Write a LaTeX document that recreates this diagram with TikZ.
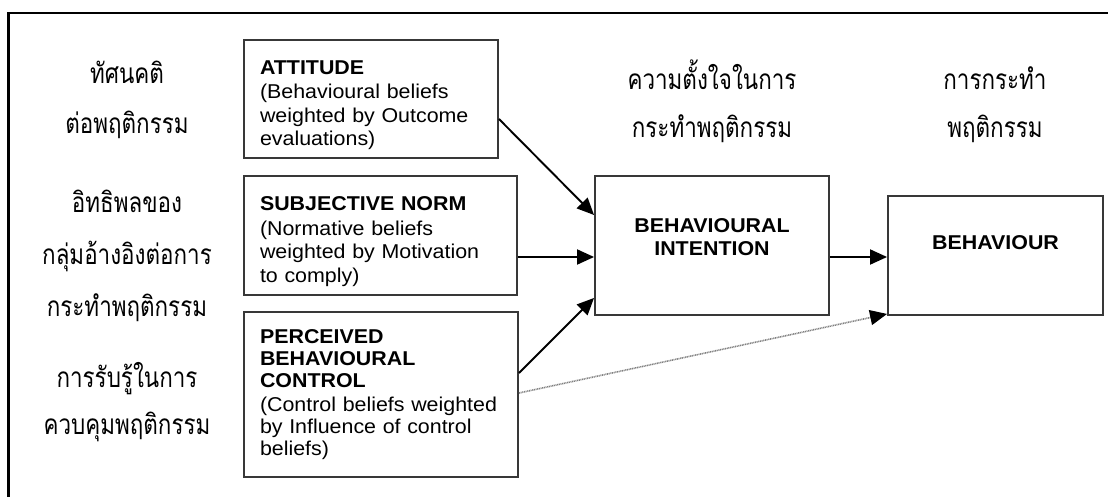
\documentclass[tikz,border=0pt]{standalone}
\usepackage{fontspec}
\newfontfamily\boxfont{Liberation Sans}[FakeStretch=1.07]
\newfontfamily\thaifont[Script=Thai, FakeStretch=0.8]{Loma}
\usetikzlibrary{arrows.meta}

\newcommand{\toppad}{\rule{0pt}{26pt}}

\tikzset{
  frameline/.style={line width=2.2pt, black},
  box/.style={draw=black!78, line width=1.9pt, rectangle, inner sep=0pt},
  leftbox/.style={box, align=left, inner xsep=16pt, inner ysep=0pt,
    font=\boxfont\fontsize{20}{23.5}\selectfont},
  bigtext/.style={align=center, inner sep=0pt,
    font=\boxfont\bfseries\fontsize{20}{23}\selectfont},
  thai/.style={anchor=base, inner sep=0pt, font=\thaifont\fontsize{28}{32}\selectfont},
  arrow/.style={line width=1.9pt, black, -{Triangle[length=17pt,width=15pt]}},
  dotarrow/.style={line width=1.6pt, black!50, dash pattern=on 1pt off 0.7pt,
    -{Triangle[length=17pt,width=15pt,fill=black,color=black]}}
}

\begin{document}
\begin{tikzpicture}[x=1pt,y=-1pt]
  \useasboundingbox (0,0) rectangle (1108,497);

  % open frame: top and left edges only
  \coordinate (ftr) at (1108,13);
  \coordinate (ftl) at (8.5,13);
  \coordinate (fbl) at (8.5,497);
  \draw[frameline] (ftr) -- (ftl) -- (fbl);

  % Thai captions, left column
  \node[thai] (t1a) at (127,84)  {ทัศนคติ};
  \node[thai] (t1b) at (127,134) {ต่อพฤติกรรม};
  \node[thai] (t2a) at (127,213) {อิทธิพลของ};
  \node[thai] (t2b) at (127,264) {กลุ่มอ้างอิงต่อการ};
  \node[thai] (t2c) at (127,316) {กระทำพฤติกรรม};
  \node[thai] (t3a) at (127,387) {การรับรู้ในการ};
  \node[thai] (t3b) at (127,434) {ควบคุมพฤติกรรม};

  % Thai captions above the intention and behaviour boxes
  \node[thai] (t4a) at (712,90)  {ความตั้งใจในการ};
  \node[thai] (t4b) at (712,138) {กระทำพฤติกรรม};
  \node[thai] (t5a) at (995,90)  {การกระทำ};
  \node[thai] (t5b) at (995,138) {พฤติกรรม};

  % belief boxes
  \node[leftbox, text width=222pt, minimum width=254pt, minimum height=118pt]
    (att) at (371,99)
    {\toppad\textbf{ATTITUDE}\\[1pt](Behavioural beliefs\\weighted by Outcome\\evaluations)};
  \node[leftbox, text width=241pt, minimum width=273pt, minimum height=119pt]
    (sn) at (380.5,235.5)
    {\toppad\textbf{SUBJECTIVE NORM}\\[1pt](Normative beliefs\\weighted by Motivation\\to comply)};
  \node[leftbox, text width=242pt, minimum width=274pt, minimum height=165pt]
    (pbc) at (381,394.5)
    {\textbf{PERCEIVED}\\[-1.5pt]\textbf{BEHAVIOURAL}\\[-1.5pt]\textbf{CONTROL}\\[1pt](Control beliefs weighted\\[-1.5pt]by Influence of control\\[-1.5pt]beliefs)};

  % intention and behaviour boxes
  \node[box, minimum width=234pt, minimum height=139pt] (bi) at (712,245.5) {};
  \node[bigtext] (biT) at (712,237) {BEHAVIOURAL\\INTENTION};
  \node[box, minimum width=215pt, minimum height=119pt] (b) at (995.5,255.5) {};
  \node[bigtext] (bT) at (995.5,243) {BEHAVIOUR};

  % connectors
  \draw[arrow] ([yshift=-20pt]att.east) -- ([yshift=30.5pt]bi.west);
  \draw[arrow] ([yshift=-21.5pt]sn.east) -- ([yshift=-21.5pt]sn.east -| bi.west);
  \draw[arrow] ([yshift=21.5pt]pbc.east) -- ([yshift=18pt]bi.south west);
  \draw[arrow] ([yshift=-11.5pt]bi.east) -- ([yshift=-11.5pt]bi.east -| b.west);
  \draw[dotarrow] ([yshift=1.5pt]pbc.east) -- ([yshift=2pt]b.south west);
\end{tikzpicture}
\end{document}
